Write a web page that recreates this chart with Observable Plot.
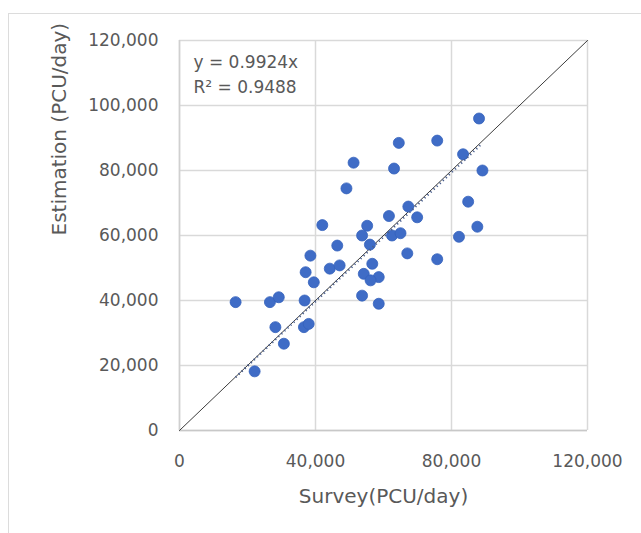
<!DOCTYPE html>
<html><head><meta charset="utf-8">
<script src="https://cdn.jsdelivr.net/npm/d3@7"></script>
<script src="https://cdn.jsdelivr.net/npm/@observablehq/plot@0.6"></script>
<style>
body{margin:0;background:#fff;}
#wrap{position:relative;width:641px;height:533px;overflow:hidden;}
#border{position:absolute;left:8px;top:13px;width:700px;height:600px;border:1.5px solid #dcdcdc;box-sizing:border-box;}
#chart{position:absolute;left:0;top:0;}
</style></head><body>
<div id="wrap"><div id="border"></div><div id="chart"></div></div>
<script>
// Survey (x) and Estimation (y), PCU/day
const survey = [16500,22100,26600,29200,28200,30700,36800,36600,38000,37100,38500,39500,42000,44200,46400,47100,49100,51200,53700,53700,55200,54200,56700,58600,56200,56000,58600,61600,62500,63100,64500,65000,67000,67300,69900,75800,75800,82200,83400,84900,87600,88100,89100];
const estimation = [39500,18200,39500,41000,31800,26700,40000,31800,32800,48700,53800,45600,63200,49800,56900,50800,74500,82400,41500,60000,63000,48200,51300,47200,46200,57200,39000,66000,60000,80600,88500,60700,54500,68900,65600,52700,89200,59600,85000,70400,62700,96000,80000];
const xTicks = [0,40000,80000,120000];
const yTicks = [0,20000,40000,60000,80000,100000,120000];
const slope = 0.9924;
const eqLines = ["y = 0.9924x","R\u00b2 = 0.9488"];
const xTitle = "Survey(PCU/day)";
const yTitle = "Estimation (PCU/day)";
const domain = [0,120000];

const points = survey.map((x,i)=>({x, y: estimation[i]}));
const trend = d3.extent(survey).map(x=>({x, y: slope*x}));
const identity = domain.map(v=>({x:v, y:v}));
const fmt = d3.format(",");

const plot = Plot.plot({
  width: 641, height: 533,
  marginLeft: 179, marginRight: 54, marginTop: 40, marginBottom: 103,
  style: {background:"transparent", fontFamily:"DejaVu Sans", fontSize:"17px", color:"#595959"},
  x: {domain, ticks: xTicks},
  y: {domain, ticks: yTicks},
  marks: [
    Plot.gridX({ticks: xTicks, stroke:"#d9d9d9", strokeOpacity:1, strokeWidth:1.5}),
    Plot.gridY({ticks: yTicks, stroke:"#d9d9d9", strokeOpacity:1, strokeWidth:1.5}),
    Plot.ruleY([0], {stroke:"#c8c8c8", strokeWidth:1.5}),
    Plot.ruleX([0], {stroke:"#d0d0d0", strokeWidth:1.5}),
    Plot.axisX({ticks: xTicks, tickSize:0, tickPadding:24, tickFormat: fmt, label:null}),
    Plot.axisY({ticks: yTicks, tickSize:0, tickPadding:21, tickFormat: fmt, label:null}),
    Plot.line(identity, {x:"x", y:"y", stroke:"#3c3c3c", strokeWidth:1}),
    Plot.dot(points, {x:"x", y:"y", r:5.5, fill:"#3f6cc6", stroke:"#3562bd", strokeWidth:0.8}),
    Plot.line(trend, {x:"x", y:"y", stroke:"#4a5f8e", strokeWidth:2.2, strokeDasharray:"1.2,3", strokeLinecap:"butt"}),
    ...eqLines.map((t,i)=>Plot.text([t], {frameAnchor:"top-left", textAnchor:"start", lineAnchor:"middle", dx:14, dy:22+25*i, fontSize:17, fill:"#595959"})),
    Plot.text([xTitle], {frameAnchor:"bottom", lineAnchor:"middle", dy:66, fontSize:20, fill:"#595959"}),
    Plot.text([yTitle], {frameAnchor:"left", lineAnchor:"middle", rotate:-90, dx:-120, fontSize:20, fill:"#595959"})
  ]
});
document.getElementById("chart").appendChild(plot);
</script>
</body></html>
